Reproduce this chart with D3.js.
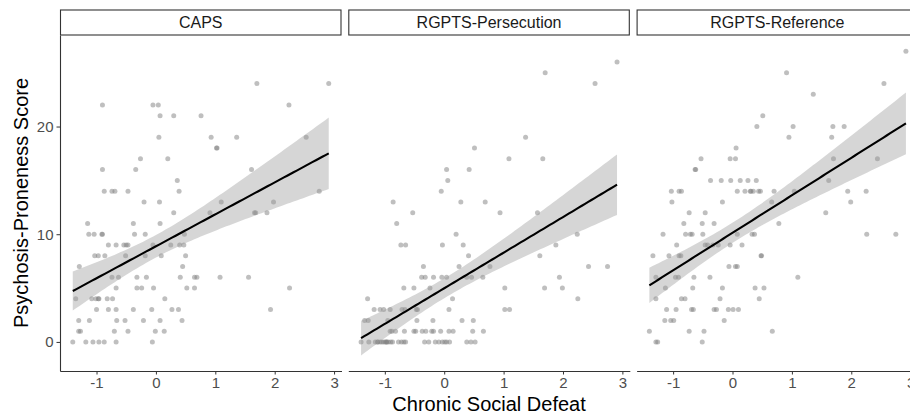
<!DOCTYPE html>
<html>
<head>
<meta charset="utf-8">
<script src="https://cdn.jsdelivr.net/npm/d3@7"></script>
<style>
  body { margin: 0; background: #fff; }
  svg { display: block; font-family: "Liberation Sans", Arial, Helvetica, sans-serif; }
</style>
</head>
<body>
<div id="chart"></div>
<script>
// facet titles
const panels = ["CAPS", "RGPTS-Persecution", "RGPTS-Reference"];
const xTicks = [-1, 0, 1, 2, 3];
const yTicks = [0, 10, 20];

// [chronic social defeat, score]
const capsPoints = [
  [1.70,24],[2.91,24],
  [-0.90,22],[-0.05,22],[0.04,22],[2.24,22],
  [0.07,21],[0.30,21],[0.76,21],
  [0.05,19],[0.93,19],[1.36,19],[2.53,19],
  [1.02,18],[1.03,18],
  [-0.26,17],[0.20,17],
  [-0.90,16],[-0.34,16],[1.61,16],
  [0.36,15],
  [-0.87,14],[-0.74,14],[-0.69,14],[-0.47,14],[0.39,14],[2.75,14],
  [-0.20,13],[0.06,13],[1.10,13],[1.98,13],
  [0.30,12],[0.91,12],[1.66,12],[1.68,12],[1.87,12],
  [-1.15,11],[-0.38,11],[0.07,11],
  [-1.13,10],[-1.04,10],[-0.91,10],[-0.90,10],[-0.36,10],[-0.18,10],[0.48,10],
  [-0.80,9],[-0.67,9],[-0.54,9],[-0.50,9],[-0.47,9],[-0.05,9],[0.25,9],[0.40,9],[0.47,9],
  [-1.03,8],[-0.97,8],[-0.86,8],[-0.51,8],[-0.18,8],[0.09,8],[0.50,8],
  [-1.29,7],[0.45,7],
  [-0.74,6],[-0.63,6],[-0.32,6],[-0.16,6],[0.41,6],[0.65,6],[0.69,6],[1.08,6],[1.56,6],
  [-0.67,5],[-0.32,5],[-0.24,5],[-0.04,5],[0.52,5],[0.65,5],[2.25,5],
  [-1.35,4],[-1.08,4],[-1.01,4],[-0.97,4],[-0.96,4],[-0.82,4],[-0.73,4],[0.15,4],
  [-1.00,3],[-0.80,3],[-0.67,3],[-0.38,3],[-0.07,3],[0.27,3],[0.38,3],[1.93,3],
  [-1.30,2],[-1.12,2],[-0.66,2],[-0.52,2],[-0.21,2],[0.07,2],[0.44,2],
  [-1.30,1],[-1.27,1],[-0.70,1],[-0.47,1],[-0.01,1],[0.14,1],
  [-1.40,0],[-1.18,0],[-1.06,0],[-0.96,0],[-0.87,0],[-0.67,0],[-0.06,0]
];

const persPoints = [
  [2.91,26],[1.70,25],[2.54,24],[1.37,19],[0.51,18],
  [1.09,17],[1.66,17],
  [0.04,16],[0.42,16],
  [0.06,15],[-0.05,14],
  [-0.86,13],[0.28,13],[0.69,13],
  [-0.53,12],[0.94,12],[1.57,12],
  [-0.80,11],
  [0.20,10],[2.24,10],
  [-0.73,9],[-0.65,9],[-0.03,9],[0.32,9],[1.88,9],
  [0.41,8],[1.61,8],
  [-0.35,7],[0.25,7],[0.77,7],[2.43,7],[2.75,7],
  [-0.38,6],[-0.32,6],[-0.18,6],[-0.04,6],[0.04,6],[0.38,6],[0.46,6],[0.65,6],[1.94,6],
  [-0.68,5],[-0.51,5],[-0.24,5],[1.02,5],[1.69,5],[1.99,5],
  [-1.29,4],[0.14,4],[2.25,4],
  [-1.18,3],[-1.08,3],[-1.02,3],[-0.91,3],[-0.71,3],[-0.66,3],[-0.47,3],[-0.45,3],[0.08,3],[1.02,3],[1.10,3],
  [-1.34,2],[-1.28,2],[-0.95,2],[-0.46,2],[-0.19,2],[0.30,2],[0.49,2],
  [-0.91,1],[-0.88,1],[-0.82,1],[-0.67,1],[-0.51,1],[-0.48,1],[-0.37,1],[-0.31,1],[-0.21,1],[-0.18,1],[-0.06,1],[0.08,1],[0.15,1],[0.48,1],[0.66,1],
  [-1.40,0],[-1.27,0],[-1.16,0],[-1.12,0],[-1.12,0],[-1.08,0],[-1.05,0],[-1.02,0],[-0.99,0],[-0.97,0],[-0.97,0],[-0.94,0],[-0.90,0],[-0.87,0],
  [-0.77,0],[-0.72,0],[-0.68,0],[-0.65,0],[-0.33,0],[-0.26,0],[-0.15,0],[-0.09,0],[-0.03,0],[0.01,0],[0.04,0],[0.09,0],[0.38,0],[0.45,0],[0.52,0]
];

const refPoints = [
  [2.92,27],[0.91,25],[2.55,24],[1.36,23],[0.51,21],
  [0.41,20],[1.02,20],[1.69,20],[1.88,20],
  [0.95,19],[1.67,19],
  [0.06,18],
  [-0.53,17],[-0.04,17],[0.05,17],[1.70,17],[2.44,17],
  [-0.63,16],[-0.62,16],
  [-0.37,15],[-0.19,15],[-0.03,15],[0.13,15],[0.26,15],[0.40,15],[1.62,15],
  [-1.03,14],[-0.90,14],[-0.86,14],[0.08,14],[0.21,14],[0.30,14],[0.31,14],[0.35,14],[0.44,14],[0.47,14],[0.70,14],[1.04,14],[1.94,14],[2.25,14],
  [-1.02,13],[-0.17,13],[0.66,13],[1.99,13],
  [-0.73,12],[-0.46,12],[1.57,12],
  [-0.82,11],[-0.51,11],[-0.31,11],[0.78,11],
  [-1.17,10],[-0.79,10],[-0.71,10],[-0.68,10],[-0.50,10],[0.08,10],[0.33,10],[0.37,10],[2.26,10],[2.75,10],
  [-0.94,9],[-0.46,9],[-0.42,9],[-0.33,9],[-0.24,9],[-0.04,9],[0.16,9],
  [-1.34,8],[-1.07,8],[-0.90,8],[-0.87,8],[0.48,8],[0.49,8],
  [-0.06,7],[0.05,7],[0.08,7],
  [-1.29,6],[-0.96,6],[-0.91,6],[-0.65,6],[-0.38,6],[1.10,6],
  [-1.13,5],[-0.67,5],[-0.17,5],[0.38,5],[0.53,5],
  [-1.29,4],[-0.86,4],[-0.80,4],[-0.21,4],[0.45,4],
  [-1.11,3],[-0.95,3],[-0.69,3],[-0.66,3],[-0.31,3],[-0.27,3],[-0.07,3],[0.01,3],[0.10,3],
  [-1.14,2],[-1.04,2],[-0.99,2],[-0.14,2],
  [-1.40,1],[-0.73,1],[-0.48,1],[0.67,1],
  [-1.29,0],[-1.26,0],[-0.51,0]
];

const panelData = [capsPoints, persPoints, refPoints];

const width = 910, height = 416;
const plotLeft = 60, panelW = 281.5, panelStep = 288.3;
const stripTop = 10, panelTop = 35, panelBottom = 371;

const svg = d3.select("#chart").append("svg")
    .attr("width", width)
    .attr("height", height);

let x = d3.scaleLinear().domain([-1.615, 3.125]).range([0, panelW]);
let y = d3.scaleLinear().domain([-2.7, 28.5]).range([panelBottom, panelTop]);

// lm fit with 95% band, like geom_smooth(method = "lm")
function lmBand(pts) {
    const n = pts.length;
    const mx = d3.mean(pts, d => d[0]), my = d3.mean(pts, d => d[1]);
    let sxx = 0, sxy = 0;
    pts.forEach(d => { sxx += (d[0]-mx)**2; sxy += (d[0]-mx)*(d[1]-my); });
    const b = sxy / sxx, a = my - b*mx;
    let sse = 0;
    pts.forEach(d => { sse += (d[1] - a - b*d[0])**2; });
    const s = Math.sqrt(sse / (n - 2));
    const t = 1.98;
    const [x0, x1] = d3.extent(pts, d => d[0]);
    return d3.range(0, 81).map(i => {
        const xv = x0 + (x1 - x0) * i / 80;
        const fit = a + b*xv;
        const se = s * Math.sqrt(1/n + (xv-mx)**2 / sxx);
        return {x: xv, fit: fit, lo: fit - t*se, hi: fit + t*se};
    });
}

// plain hyphen minus, as in the original
const fmt = d => String(d);

panels.forEach(function(name, i) {
    let g = svg.append("g")
        .attr("transform", `translate(${plotLeft + i*panelStep},0)`);

    // strip
    g.append("rect")
        .attr("x", 0.5).attr("y", stripTop)
        .attr("width", panelW - 1).attr("height", panelTop - stripTop)
        .attr("fill", "#fff")
        .attr("stroke", "#333")
        .attr("stroke-width", 1.1);
    g.append("text")
        .attr("x", panelW/2).attr("y", (stripTop + panelTop)/2)
        .attr("dy", "0.36em")
        .attr("text-anchor", "middle")
        .style("font-size", "16px")
        .style("fill", "#1a1a1a")
        .text(name);

    g.selectAll("circle").data(panelData[i]).enter()
        .append("circle")
        .attr("cx", d => x(d[0]))
        .attr("cy", d => y(d[1]))
        .attr("r", 2.5)
        .style("fill", "#7f7f7f")
        .style("fill-opacity", 0.5);

    const band = lmBand(panelData[i]);
    g.append("path")
        .datum(band)
        .attr("d", d3.area().x(d => x(d.x)).y0(d => y(d.lo)).y1(d => y(d.hi)))
        .style("fill", "#999")
        .style("fill-opacity", 0.4);
    g.append("path")
        .datum(band)
        .attr("d", d3.line().x(d => x(d.x)).y(d => y(d.fit)))
        .style("fill", "none")
        .style("stroke", "#000")
        .style("stroke-width", 2.1);

    // x axis
    let xa = g.append("g")
        .attr("transform", `translate(0,${panelBottom})`)
        .call(d3.axisBottom(x).tickValues(xTicks).tickSize(3.5).tickSizeOuter(0).tickPadding(3).tickFormat(fmt));
    xa.select(".domain").attr("stroke", "#333").attr("stroke-width", 1.1);
    xa.selectAll(".tick line").attr("stroke", "#333");
    xa.selectAll(".tick text").style("font-size", "15px").style("fill", "#4d4d4d")
        .style("font-family", "\"Liberation Sans\", Arial, sans-serif");

    if (i === 0) {
        let ya = g.append("g")
            .call(d3.axisLeft(y).tickValues(yTicks).tickSize(3.5).tickSizeOuter(0).tickPadding(3).tickFormat(fmt));
        ya.select(".domain").attr("stroke", "#333").attr("stroke-width", 1.1);
        ya.selectAll(".tick line").attr("stroke", "#333");
        ya.selectAll(".tick text").style("font-size", "15px").style("fill", "#4d4d4d")
            .style("font-family", "\"Liberation Sans\", Arial, sans-serif");
    }
});

// axis titles
svg.append("text")
    .attr("x", plotLeft + (2*panelStep + panelW)/2)
    .attr("y", 411)
    .attr("text-anchor", "middle")
    .style("font-size", "20px")
    .style("fill", "#000")
    .text("Chronic Social Defeat");

svg.append("text")
    .attr("transform", `translate(28,${(panelTop + panelBottom)/2}) rotate(-90)`)
    .attr("text-anchor", "middle")
    .style("font-size", "20px")
    .style("fill", "#000")
    .text("Psychosis-Proneness Score");
</script>
</body>
</html>
